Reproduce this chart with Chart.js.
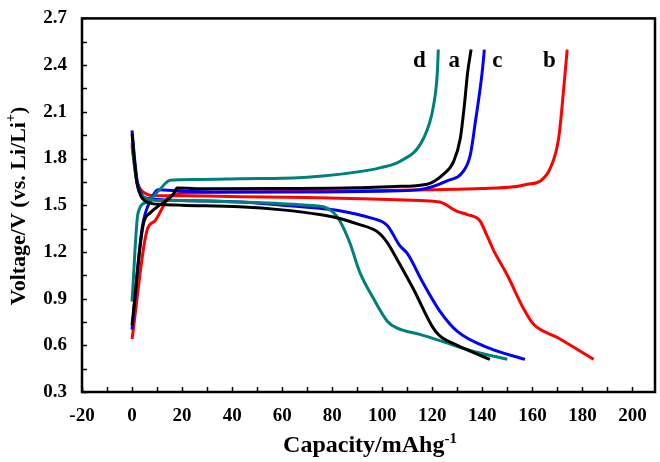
<!DOCTYPE html>
<html>
<head>
<meta charset="utf-8">
<script src="https://cdn.jsdelivr.net/npm/chart.js@4.4.1/dist/chart.umd.min.js"></script>
<style>
  html, body { margin: 0; padding: 0; background: #fff; }
  #wrap { width: 660px; height: 462px; }
</style>
</head>
<body>
<div id="wrap"><canvas id="myChart" width="660" height="462"></canvas></div>
<script>
// sample a (black)
const aDisCap = [0, 1, 2, 3.5, 5, 8, 12, 20, 43, 60, 75, 83, 90, 98, 102, 106, 112.5, 120, 123, 130, 143];
const aDisV   = [1.96, 1.78, 1.64, 1.56, 1.53, 1.51, 1.505, 1.50, 1.49, 1.47, 1.44, 1.415, 1.38, 1.33, 1.26, 1.15, 0.96, 0.72, 0.66, 0.60, 0.51];
const aChgCap = [0, 4.4, 7.2, 11, 16.5, 18, 30, 60, 90, 105, 117.9, 124.5, 128.5, 131.2, 132.8, 134.1, 135.5];
const aChgV   = [0.73, 1.37, 1.45, 1.50, 1.57, 1.61, 1.605, 1.607, 1.612, 1.62, 1.635, 1.70, 1.78, 1.93, 2.14, 2.35, 2.5];

// sample b (red)
const bDisCap = [0, 1, 2, 3.5, 6, 10, 20, 43, 70, 96, 115, 123, 130, 134, 139, 142, 144.5, 150, 156.5, 160.5, 170, 184.5];
const bDisV   = [1.88, 1.75, 1.65, 1.60, 1.57, 1.56, 1.56, 1.555, 1.55, 1.54, 1.53, 1.52, 1.46, 1.44, 1.40, 1.30, 1.21, 1.05, 0.835, 0.735, 0.65, 0.51];
const bChgCap = [0, 6, 9.2, 13, 15, 25, 43, 80, 120, 140, 152.5, 158, 163.2, 167.2, 170.5, 172.5, 173.9];
const bChgV   = [0.64, 1.34, 1.40, 1.51, 1.56, 1.58, 1.585, 1.59, 1.60, 1.607, 1.618, 1.635, 1.656, 1.74, 1.93, 2.245, 2.5];

// sample c (blue)
const cDisCap = [0, 1, 2, 3.5, 5, 8, 12, 20, 43, 60, 75, 83, 95, 102, 107, 110, 116, 123, 130, 143, 157];
const cDisV   = [1.98, 1.80, 1.66, 1.58, 1.55, 1.54, 1.535, 1.53, 1.52, 1.50, 1.48, 1.465, 1.42, 1.37, 1.24, 1.19, 1.01, 0.82, 0.69, 0.58, 0.51];
const cChgCap = [0, 4, 8, 10.4, 20, 40, 70, 100, 115, 125.9, 132.5, 135.2, 137.2, 139.9, 140.8];
const cChgV   = [0.70, 1.35, 1.55, 1.60, 1.59, 1.585, 1.585, 1.59, 1.60, 1.656, 1.72, 1.824, 2.034, 2.35, 2.5];

// sample d (teal)
const dDisCap = [0, 1, 2, 3.5, 6, 10, 20, 43, 60, 70, 76.5, 80, 83, 87, 91, 96.5, 102, 106, 115, 123, 136.5, 150];
const dDisV   = [1.90, 1.75, 1.64, 1.57, 1.54, 1.53, 1.53, 1.52, 1.51, 1.50, 1.49, 1.46, 1.40, 1.26, 1.07, 0.90, 0.755, 0.71, 0.67, 0.63, 0.56, 0.51];
const dChgCap = [0, 2.4, 6, 11, 15.2, 25, 43, 70, 96.5, 99, 107, 116.5, 120.5, 122, 122.4];
const dChgV   = [0.88, 1.45, 1.52, 1.60, 1.66, 1.665, 1.67, 1.68, 1.73, 1.74, 1.78, 1.93, 2.14, 2.35, 2.5];

// axis ticks (every tick gets a mark, labels only on the major ones)
const xTicks = [-20, -10, 0, 10, 20, 30, 40, 50, 60, 70, 80, 90, 100, 110, 120, 130, 140, 150, 160, 170, 180, 190, 200];
const yTicks = [0.3, 0.45, 0.6, 0.75, 0.9, 1.05, 1.2, 1.35, 1.5, 1.65, 1.8, 1.95, 2.1, 2.25, 2.4, 2.55, 2.7];

// curve labels
const curveNames = ['d', 'a', 'c', 'b'];
const curveNameCap = [114.8, 128.8, 146, 166.8];
const curveNameV = [2.44, 2.44, 2.44, 2.44];

function pts(xs, ys) {
  return xs.map((x, i) => ({x: x, y: ys[i]}));
}

const serif = '"Liberation Serif", "Times New Roman", serif';

function line(data, color) {
  return {
    data: data,
    borderColor: color,
    backgroundColor: color,
    borderWidth: 3,
    pointRadius: 0,
    fill: false,
    cubicInterpolationMode: 'monotone'
  };
}

// first dataset ends up on top
const datasets = [
  line(pts(aChgCap, aChgV), '#000000'),
  line(pts(aDisCap, aDisV), '#000000'),
  line(pts(dChgCap, dChgV), '#00807a'),
  line(pts(dDisCap, dDisV), '#00807a'),
  line(pts(cChgCap, cChgV), '#0000ff'),
  line(pts(cDisCap, cDisV), '#0000ff'),
  line(pts(bChgCap, bChgV), '#ff0000'),
  line(pts(bDisCap, bDisV), '#ff0000')
];

function drawSup(ctx, parts, x, y, align) {
  // parts: [text, font, dy]
  let total = 0;
  parts.forEach(p => { ctx.font = p[1]; total += ctx.measureText(p[0]).width; });
  let cx = align === 'center' ? x - total / 2 : x;
  ctx.textAlign = 'left';
  parts.forEach(p => {
    ctx.font = p[1];
    ctx.fillText(p[0], cx, y + p[2]);
    cx += ctx.measureText(p[0]).width;
  });
}

const decor = {
  id: 'decor',
  afterDraw(chart) {
    const ctx = chart.ctx;
    const a = chart.chartArea;
    const xs = chart.scales.x, ys = chart.scales.y;
    ctx.save();
    ctx.strokeStyle = '#000';
    ctx.lineWidth = 1.5;
    xs.ticks.forEach(t => {
      const px = Math.round(xs.getPixelForValue(t.value)) + 0.5;
      ctx.beginPath();
      ctx.moveTo(px, a.bottom);
      ctx.lineTo(px, a.bottom - 5);
      ctx.stroke();
    });
    ys.ticks.forEach(t => {
      const py = Math.round(ys.getPixelForValue(t.value)) + 0.5;
      ctx.beginPath();
      ctx.moveTo(a.left, py);
      ctx.lineTo(a.left + 5, py);
      ctx.stroke();
    });
    ctx.lineWidth = 2.5;
    ctx.strokeRect(a.left, a.top, a.right - a.left, a.bottom - a.top);

    ctx.fillStyle = '#000';
    ctx.textBaseline = 'alphabetic';
    // curve names
    ctx.textAlign = 'center';
    ctx.font = 'bold 23px ' + serif;
    curveNames.forEach((n, i) => {
      ctx.fillText(n, xs.getPixelForValue(curveNameCap[i]), ys.getPixelForValue(curveNameV[i]) + 8);
    });
    // x title
    drawSup(ctx, [
      ['Capacity/mAhg', 'bold 24px ' + serif, 0],
      ['-1', 'bold 15px ' + serif, -9]
    ], 370, 452, 'center');
    // y title
    ctx.translate(25, 206);
    ctx.rotate(-Math.PI / 2);
    drawSup(ctx, [
      ['Voltage/V (vs. Li/Li', 'bold 22px ' + serif, 0],
      ['+', 'bold 14px ' + serif, -10],
      [')', 'bold 22px ' + serif, 0]
    ], 0, 0, 'center');
    ctx.restore();
  }
};

const scales = {
  x: {
    type: 'linear',
    min: -20,
    max: 209,
    grid: { display: false },
    border: { display: false },
    afterFit(s) { s.height = 70; },
    afterBuildTicks(s) { s.ticks = xTicks.map(v => ({value: v})); },
    ticks: {
      autoSkip: false,
      maxRotation: 0,
      padding: 5,
      color: '#000',
      font: { family: serif, size: 19, weight: 'bold' },
      callback: v => (v % 20 === 0) ? String(v) : ''
    }
  },
  y: {
    type: 'linear',
    min: 0.3,
    max: 2.7,
    grid: { display: false },
    border: { display: false },
    afterFit(s) { s.width = 82; },
    afterBuildTicks(s) { s.ticks = yTicks.map(v => ({value: v})); },
    ticks: {
      autoSkip: false,
      padding: 7,
      color: '#000',
      font: { family: serif, size: 19, weight: 'bold' },
      callback: v => (Math.round(v * 100) % 30 === 0) ? v.toFixed(1) : ''
    }
  }
};

const chart = new Chart(document.getElementById('myChart').getContext('2d'), {
  type: 'line',
  data: { datasets: datasets },
  options: {
    responsive: false,
    animation: false,
    layout: { padding: { top: 11, right: 5, left: 0, bottom: 0 } },
    scales: scales,
    plugins: {
      legend: { display: false },
      tooltip: { enabled: false }
    }
  },
  plugins: [decor]
});
</script>
</body>
</html>
